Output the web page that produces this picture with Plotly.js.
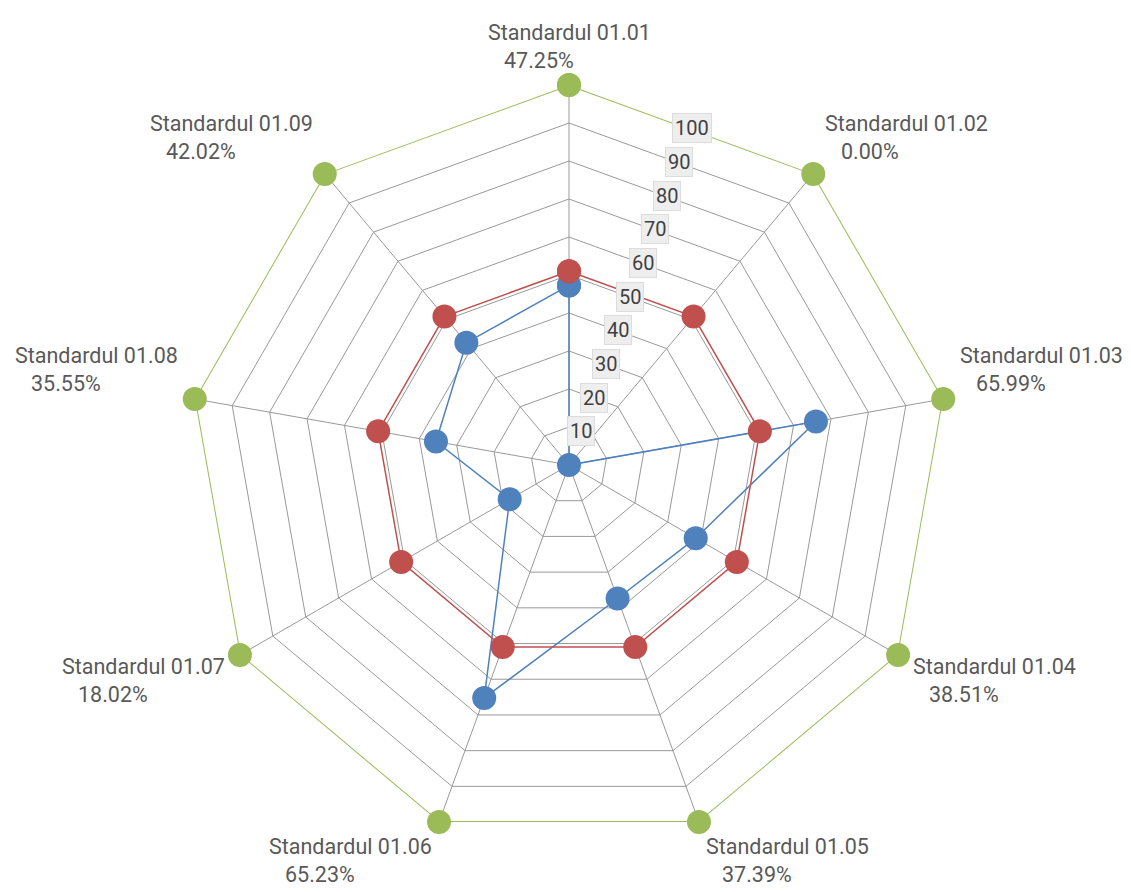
<!DOCTYPE html>
<html><head><meta charset="utf-8">
<script src="https://cdn.plot.ly/plotly-3.0.1.min.js"></script>
<style>
html,body{margin:0;padding:0;background:#fff}
#chart{width:1131px;height:892px}
</style>
</head><body><div id="chart"></div>
<script>
const categories = ['Standardul 01.01','Standardul 01.02','Standardul 01.03','Standardul 01.04','Standardul 01.05','Standardul 01.06','Standardul 01.07','Standardul 01.08','Standardul 01.09'];
const percentLabels = ['47.25%','0.00%','65.99%','38.51%','37.39%','65.23%','18.02%','35.55%','42.02%'];
const actualValues = [47.25, 0.00, 65.99, 38.51, 37.39, 65.23, 18.02, 35.55, 42.02];
const targetValues = [51, 51, 51, 51, 51, 51, 51, 51, 51];
const maxValues = [100, 100, 100, 100, 100, 100, 100, 100, 100];
const radialTicks = [10, 20, 30, 40, 50, 60, 70, 80, 90, 100];

const W = 1131, H = 892, CX = 569, CY = 465, R = 380;
const FONT = 'Roboto, "Liberation Sans", sans-serif';
const domX = [(CX - R) / W, (CX + R) / W];
const domY = [1 - (CY + R) / H, 1 - (CY - R) / H];

function closed(a) { return a.concat([a[0]]); }

function series(vals, color, width, clip, subplot) {
  return {
    type: 'scatterpolar',
    subplot: subplot,
    theta: closed(categories),
    r: closed(vals),
    mode: 'lines+markers',
    line: {color: color, width: width},
    marker: {color: color, size: 24},
    hoverinfo: 'skip',
    cliponaxis: clip
  };
}

const data = [
  series(actualValues, '#4F81BD', 1.5, true, 'polar'),
  series(targetValues, '#C0504D', 1.5, true, 'polar'),
  series(maxValues, '#9BBB59', 2, false, 'polar2')
];

const annotations = [];
categories.forEach(function (c, i) {
  const a = i * 2 * Math.PI / categories.length;
  const vx = CX + R * Math.sin(a), vy = CY - R * Math.cos(a);
  const s = Math.sin(a), co = Math.cos(a);
  let xanchor = 'center';
  if (s > 0.01) xanchor = 'left'; else if (s < -0.01) xanchor = 'right';
  const upper = co > 0;
  annotations.push({
    xref: 'paper', yref: 'paper',
    x: vx / W, y: 1 - vy / H,
    xshift: 15 * s, yshift: upper ? (11 * co - 1) : (18 + 29.5 * co),
    xanchor: xanchor, yanchor: upper ? 'bottom' : 'top', align: 'left',
    showarrow: false,
    text: c + '<br>\u00a0\u00a0\u00a0' + percentLabels[i],
    font: {family: FONT, size: 21.5, color: '#595959'}
  });
});
const tickAng = 20 * Math.PI / 180;
radialTicks.forEach(function (t) {
  const d = 0.943 * R * t / 100;
  annotations.push({
    xref: 'paper', yref: 'paper',
    x: (CX + d * Math.sin(tickAng)) / W, y: 1 - (CY - d * Math.cos(tickAng)) / H,
    xanchor: 'center', yanchor: 'middle',
    showarrow: false,
    text: String(t),
    bgcolor: '#eeeeee', bordercolor: '#dcdcdc', borderwidth: 1, borderpad: 2,
    font: {family: FONT, size: 20, color: '#404040'}
  });
});

const angBase = {
  type: 'category', categoryorder: 'array', categoryarray: categories,
  rotation: 90, direction: 'clockwise',
  showticklabels: false, ticks: '', showline: false
};
const radBase = {
  range: [0, 100], tick0: 0, dtick: 10,
  showticklabels: false, ticks: '', showline: false, angle: 90
};

const layout = {
  width: W, height: H,
  margin: {l: 0, r: 0, t: 0, b: 0},
  paper_bgcolor: '#ffffff',
  showlegend: false,
  polar: {
    domain: {x: domX, y: domY},
    gridshape: 'linear',
    bgcolor: '#ffffff',
    angularaxis: Object.assign({}, angBase, {gridcolor: '#999999', gridwidth: 1}),
    radialaxis: Object.assign({}, radBase, {gridcolor: '#999999', gridwidth: 1})
  },
  polar2: {
    domain: {x: domX, y: domY},
    gridshape: 'linear',
    bgcolor: 'rgba(0,0,0,0)',
    angularaxis: Object.assign({}, angBase, {showgrid: false}),
    radialaxis: Object.assign({}, radBase, {showgrid: false})
  },
  annotations: annotations
};

Plotly.newPlot('chart', data, layout, {displayModeBar: false, staticPlot: true});
</script></body></html>
